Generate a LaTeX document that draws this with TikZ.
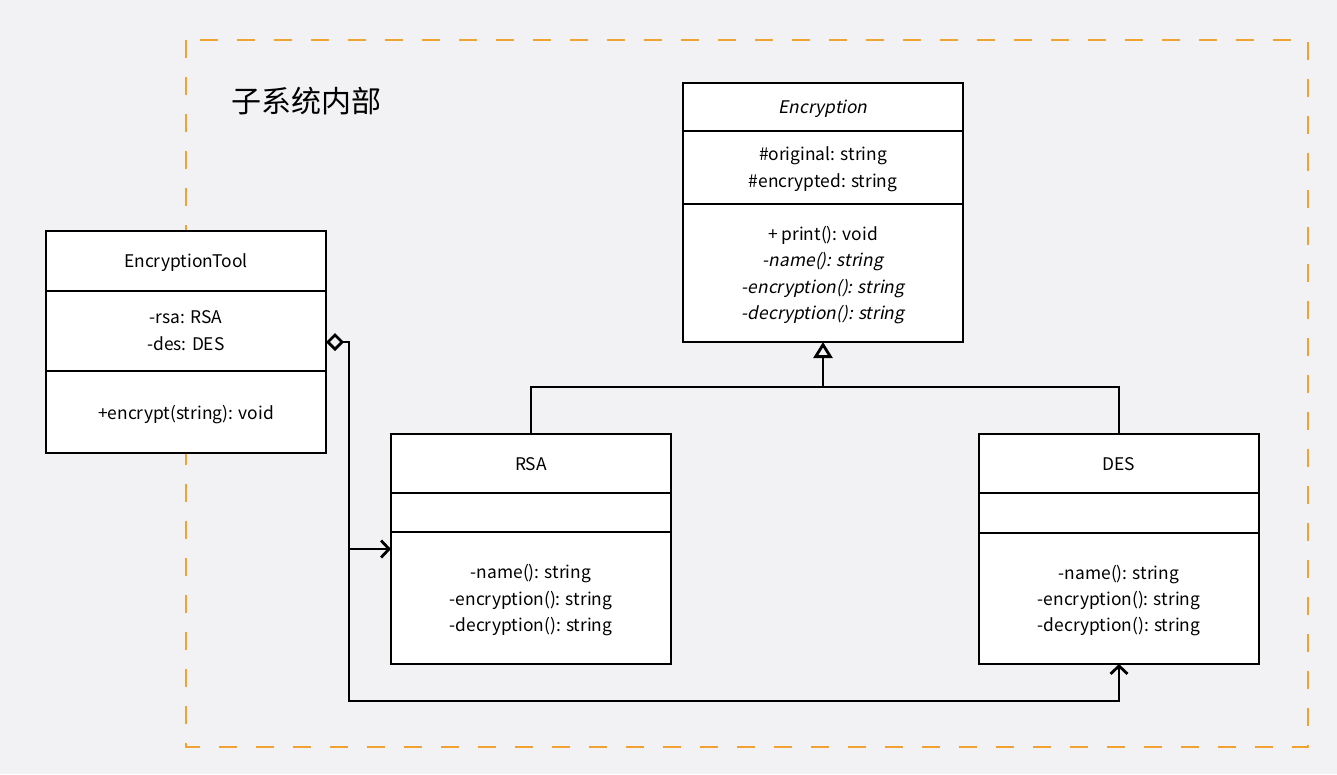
\documentclass[tikz,border=0pt]{standalone}
\usepackage{fontspec}
\setmainfont{Noto Sans CJK SC}[AutoFakeSlant=0.2]
\usetikzlibrary{arrows.meta}
\definecolor{bgc}{HTML}{F2F2F4}
\definecolor{framec}{HTML}{F0A232}
\begin{document}
\begin{tikzpicture}[x=1pt,y=-1pt,
  cls/.style={draw=black, line width=2.8pt, fill=white, inner sep=0pt, outer sep=0pt, anchor=north west},
  divl/.style={draw=black, line width=2.8pt},
  txt/.style={font=\fontsize{17.4}{20}\selectfont, inner sep=0pt, anchor=mid, yshift=-5pt},
  itxt/.style={txt, font=\fontsize{17.4}{20}\selectfont\itshape},
  conn/.style={draw=black, line width=2.8pt},
  framebox/.style={draw=framec, line width=2.5pt, dash pattern=on 18pt off 19pt}
]
\fill[bgc] (0,0) rectangle (1337,774);
\useasboundingbox (0,0) rectangle (1337,774);

% subsystem frame
\draw[framebox] (186,40) rectangle (1308,747);
\node[font=\fontsize{30}{32}\selectfont, inner sep=0pt, anchor=west] (title) at (231,101) {子系统内部};

% EncryptionTool
\node[cls, minimum width=280pt, minimum height=222pt] (tool) at (46,231) {};
\draw[divl] (tool.west |- 0,291) -- (tool.east |- 0,291);
\draw[divl] (tool.west |- 0,371) -- (tool.east |- 0,371);
\node[txt] (toolname) at (186,260) {EncryptionTool};
\node[txt] (toola1) at (186,316) {-rsa: RSA};
\node[txt] (toola2) at (186,343) {-des: DES};
\node[txt] (toolm1) at (186,412) {+encrypt(string): void};

% Encryption
\node[cls, minimum width=280pt, minimum height=259pt] (enc) at (683,83) {};
\draw[divl] (enc.west |- 0,131) -- (enc.east |- 0,131);
\draw[divl] (enc.west |- 0,204) -- (enc.east |- 0,204);
\node[itxt] (encname) at (823,106) {Encryption};
\node[txt] (enca1) at (823,153) {\#original: string};
\node[txt] (enca2) at (823,180) {\#encrypted: string};
\node[txt] (encm1) at (823,233) {+ print(): void};
\node[itxt] (encm2) at (823,259) {-name(): string};
\node[itxt] (encm3) at (823,286) {-encryption(): string};
\node[itxt] (encm4) at (823,312) {-decryption(): string};

% RSA
\node[cls, minimum width=280pt, minimum height=230pt] (rsa) at (391,434) {};
\draw[divl] (rsa.west |- 0,493) -- (rsa.east |- 0,493);
\draw[divl] (rsa.west |- 0,532) -- (rsa.east |- 0,532);
\node[txt] (rsaname) at (531,463) {RSA};
\node[txt] (rsam1) at (531,571) {-name(): string};
\node[txt] (rsam2) at (531,598) {-encryption(): string};
\node[txt] (rsam3) at (531,624) {-decryption(): string};

% DES
\node[cls, minimum width=280pt, minimum height=230pt] (des) at (979,434) {};
\draw[divl] (des.west |- 0,493) -- (des.east |- 0,493);
\draw[divl] (des.west |- 0,533) -- (des.east |- 0,533);
\node[txt] (desname) at (1119,463) {DES};
\node[txt] (desm1) at (1119,572) {-name(): string};
\node[txt] (desm2) at (1119,598) {-encryption(): string};
\node[txt] (desm3) at (1119,624) {-decryption(): string};

% inheritance
\coordinate (hub) at (823,387);
\draw[conn] (rsa.north) |- (hub);
\draw[conn] (des.north) |- (hub);
\draw[conn, -{Triangle[open, length=16pt, width=19pt]}] (hub) -- (enc.south);

% aggregation / association
\coordinate (jn) at (349,342);
\coordinate (bend) at (349,701);
\draw[conn, {Diamond[open, length=18pt, width=18pt]}-{Straight Barb[length=8pt, width=17pt]}] (tool.east) -- (jn) |- (rsa.west);
\draw[conn, -{Straight Barb[length=8pt, width=17pt]}] (jn) -- (bend) -| (des.south);
\end{tikzpicture}
\end{document}
